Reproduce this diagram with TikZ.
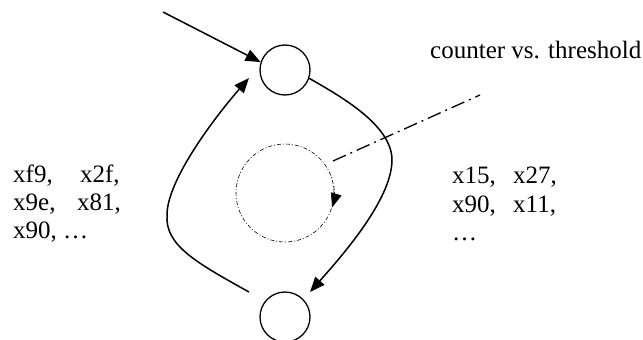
\documentclass[tikz,border=0pt]{standalone}
\usepackage{fontspec}
\setmainfont{Liberation Serif}
\usetikzlibrary{arrows.meta,calc}
\begin{document}
\begin{tikzpicture}[x=1pt,y=-1pt,
  arr/.style={line width=1.5pt,-{Triangle[length=15pt,width=12pt]}},
  state/.style={circle,draw,line width=1.3pt,minimum size=50pt,inner sep=0pt},
  dotcirc/.style={line width=0.6pt,dash pattern=on 4pt off 2pt on 1pt off 2pt},
  dashdot/.style={line width=1.3pt,dash pattern=on 14pt off 5pt on 2pt off 5pt},
  txt/.style={anchor=base west,inner sep=0pt,font=\fontsize{25}{29}\selectfont}]
\useasboundingbox (0,0) rectangle (643,340);
% states
\node[state] (top) at (285,70) {};
\node[state] (bot) at (285,317) {};
\node[circle,draw,dotcirc,minimum size=98pt,inner sep=0pt] (dc) at (285,193) {};
% incoming arrow
\coordinate (in) at (163,12);
\draw[arr] (in) -- (top.162);
% left curve: bottom -> top
\coordinate (ls) at ($(bot)+(-36,-25)$);
\coordinate (le) at ($(top)+(-36,8)$);
\draw[arr] (ls) .. controls (195,262) and (165,245) .. (167,215)
  .. controls (167,180) and (215,117) .. (le);
% right curve: top -> bottom
\coordinate (re) at ($(bot)+(25,-25)$);
\draw[arr] (top.-19) .. controls (340,96) and (392,125) .. (392,160)
  .. controls (392,200) and (340,258) .. (re);
% arrow on dotted circle
\draw[dotcirc,-{Triangle[length=14pt,width=11pt]}] (dc.8) arc[start angle=-8,end angle=17,radius=49];
% dash-dot pointer
\coordinate (de) at (480,95);
\draw[dashdot] ($(dc)+(48,-32)$) -- (de);
% texts
\node[txt] (ct) at (430,58) {counter vs. threshold};
\node[txt] (l1) at (13,182) {\makebox[67pt][l]{xf9,}x2f,};
\node[txt] (l2) at (13,210) {\makebox[64pt][l]{x9e,}x81,};
\node[txt] (l3) at (13,238) {x90, \dots};
\node[txt] (r1) at (452,183) {\makebox[61pt][l]{x15,}x27,};
\node[txt] (r2) at (452,212) {\makebox[61pt][l]{x90,}x11,};
\node[txt] (r3) at (452,240) {\dots};
\end{tikzpicture}
\end{document}
